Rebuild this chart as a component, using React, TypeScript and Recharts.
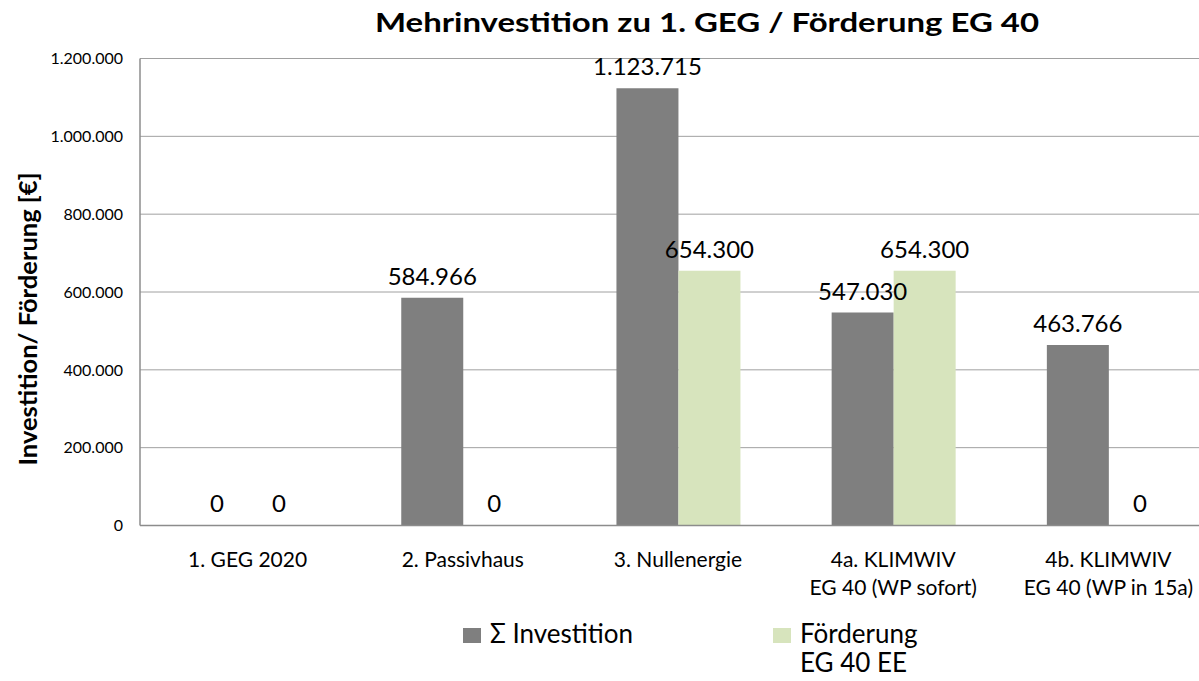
import { BarChart, Bar, XAxis, YAxis, CartesianGrid, LabelList } from 'recharts';

const FONT = 'Lato, "Open Sans", sans-serif';

const title = 'Mehrinvestition zu 1. GEG / Förderung EG 40';
const yAxisTitle = 'Investition/ Förderung [€]';

const categories = [
  '1. GEG 2020',
  '2. Passivhaus',
  '3. Nullenergie',
  '4a. KLIMWIV\nEG 40 (WP sofort)',
  '4b. KLIMWIV\nEG 40 (WP in 15a)',
];
const investition = [0, 584966, 1123715, 547030, 463766];
const foerderung = [0, 0, 654300, 654300, 0];
const yTicks = [0, 200000, 400000, 600000, 800000, 1000000, 1200000];

const seriesKeys = ['investition', 'foerderung'];
const seriesNames = ['Σ Investition', 'Förderung\nEG 40 EE'];
const seriesColors = ['#7f7f7f', '#d7e4bd'];

const data = categories.map((name, i) => ({
  name,
  investition: investition[i],
  foerderung: foerderung[i],
}));

const fmt = (v: number) => String(Math.round(v)).replace(/\B(?=(\d{3})+(?!\d))/g, '.');

function CategoryTick({ x, y, payload }: any) {
  const lines = String(payload.value).split('\n');
  return (
    <text textAnchor="middle" fontFamily={FONT} fontSize={21} fill="#000">
      {lines.map((line, i) => (
        <tspan key={i} x={x} y={y + 41 + i * 28}>
          {line}
        </tspan>
      ))}
    </text>
  );
}

const legendLeft = [463, 773];

export default function App() {
  return (
    <div style={styles.frame}>
      <BarChart
        width={1216}
        height={681}
        data={data}
        margin={{ top: 58.5, right: 0, bottom: 0, left: 0 }}
        barCategoryGap="21.4%"
        barGap={0}
      >
        <CartesianGrid vertical={false} stroke="#a0a0a0" />
        <XAxis
          dataKey="name"
          height={155.5}
          tickLine={false}
          tickSize={0}
          tickMargin={0}
          axisLine={{ stroke: '#8c8c8c', strokeWidth: 1.5 }}
          tick={<CategoryTick />}
          interval={0}
        />
        <YAxis
          width={140}
          domain={[0, 1200000]}
          ticks={yTicks}
          tickFormatter={fmt}
          tickLine={false}
          tickSize={0}
          tickMargin={17}
          axisLine={{ stroke: '#8c8c8c', strokeWidth: 1.5 }}
          tick={{ fontFamily: FONT, fontSize: 16, fill: '#000' }}
        />
        {seriesKeys.map((key, i) => (
          <Bar
            key={key}
            dataKey={key}
            name={seriesNames[i]}
            fill={seriesColors[i]}
            minPointSize={0.01}
            isAnimationActive={false}
          >
            <LabelList
              dataKey={key}
              position="top"
              offset={13}
              formatter={(v: any) => fmt(Number(v))}
              style={{ fontFamily: FONT, fontSize: 24, fill: '#000' }}
            />
          </Bar>
        ))}
        <text
          x={707}
          y={32}
          textAnchor="middle"
          fontFamily={FONT}
          fontWeight="bold"
          fontSize={27}
          textLength={664}
          lengthAdjust="spacingAndGlyphs"
          fill="#000"
        >
          {title}
        </text>
        <text
          x={37}
          y={319}
          transform="rotate(-90 37 319)"
          textAnchor="middle"
          fontFamily={FONT}
          fontWeight="bold"
          fontSize={25.5}
          fill="#000"
        >
          {yAxisTitle}
        </text>
      </BarChart>
      {seriesNames.map((name, i) => (
        <div key={name} style={{ ...styles.legendItem, left: legendLeft[i] }}>
          <div style={{ ...styles.swatch, backgroundColor: seriesColors[i] }} />
          <div style={styles.legendText}>
            {name.split('\n').map((line, j) => (
              <div key={line} style={{ marginTop: j > 0 ? 3 : 0 }}>
                {line}
              </div>
            ))}
          </div>
        </div>
      ))}
    </div>
  );
}

const styles = {
  frame: {
    position: 'absolute' as const,
    left: 0,
    top: 0,
    width: 1199,
    height: 681,
    overflow: 'hidden',
    backgroundColor: '#fff',
  },
  legendItem: {
    position: 'absolute' as const,
    top: 620,
    display: 'flex',
    alignItems: 'flex-start',
  },
  swatch: {
    width: 18,
    height: 15,
    marginTop: 8,
    marginRight: 9,
  },
  legendText: {
    fontFamily: FONT,
    fontSize: 26,
    lineHeight: '26px',
    color: '#000',
  },
};
